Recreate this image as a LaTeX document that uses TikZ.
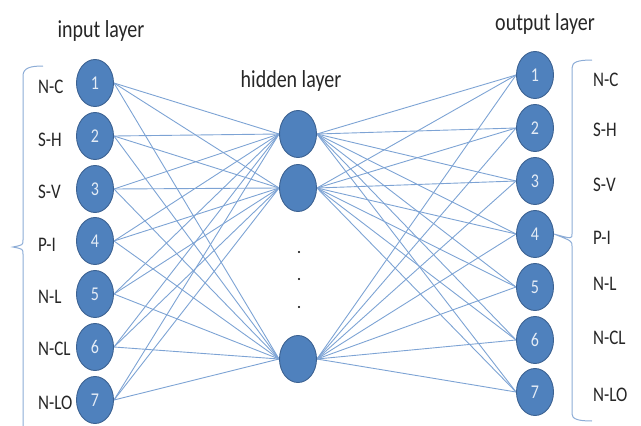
\documentclass[tikz,border=0pt]{standalone}
\usepackage{fontspec}
\setmainfont{Carlito}
\usetikzlibrary{shapes.geometric,backgrounds}
\definecolor{neuronfill}{RGB}{79,129,189}
\definecolor{neurondraw}{RGB}{60,98,146}
\definecolor{neurontext}{RGB}{228,236,246}
\definecolor{linkblue}{RGB}{125,163,212}
\definecolor{bracecol}{RGB}{140,172,214}
\newcommand{\tallx}[2][1.22]{\scalebox{1}[#1]{#2}}
\tikzset{
  neuron/.style={ellipse, fill=neuronfill, draw=neurondraw, line width=0.9pt,
    minimum width=37pt, minimum height=47pt, inner sep=0pt,
    text=neurontext, font=\fontsize{16}{16}\selectfont},
  link/.style={draw=linkblue, line width=0.9pt},
  sidelabel/.style={anchor=west, inner sep=0pt, text=black!85,
    font=\fontsize{17}{17}\selectfont},
  title/.style={inner sep=0pt, text=black!85, font=\fontsize{20}{20}\selectfont},
  bracket/.style={draw=bracecol, line width=1pt},
  dotmark/.style={circle, fill=black, inner sep=0pt, minimum size=2.4pt}
}
\begin{document}
\begin{tikzpicture}[x=1pt,y=-1pt]
\useasboundingbox (0,0) rectangle (641,426);

% titles
\node[title] (tin) at (101,31) {\tallx{input layer}};
\node[title] (thid) at (291,81) {\tallx{hidden layer}};
\node[title] (tout) at (545,24) {\tallx{output layer}};

% input layer
\foreach \i/\y in {1/83,2/136,3/189,4/241,5/294,6/347,7/400}
  \node[neuron] (in\i) at (95,\y) {\tallx{\i}};

% hidden layer
\node[neuron] (h1) at (298,134) {};
\node[neuron] (h2) at (298,188) {};
\node[neuron] (h3) at (298,359) {};
\node[dotmark] (d1) at (299,252) {};
\node[dotmark] (d2) at (299,279) {};
\node[dotmark] (d3) at (299,307) {};

% output layer
\foreach \i/\y in {1/75,2/128,3/181,4/234,5/287,6/340,7/392}
  \node[neuron] (out\i) at (535,\y) {\tallx{\i}};

% connections
\begin{scope}[on background layer]
  \foreach \i in {1,...,7}
    \foreach \h in {1,2,3} {
      \draw[link] (in\i.east) -- (h\h.west);
      \draw[link] (h\h.east) -- (out\i.west);
    }
\end{scope}

% input labels
\foreach \t/\y [count=\k] in {N-C/87,S-H/140,S-V/192,P-I/245,N-L/297,N-CL/349,N-LO/403}
  \node[sidelabel] (lin\k) at (38,\y) {\tallx{\t}};

% output labels
\foreach \t/\y [count=\k] in {N-C/80,S-H/130,S-V/185,P-I/238,N-L/284,N-CL/338,N-LO/395}
  \node[sidelabel] (lout\k) at (593,\y) {\tallx{\t}};

% left brace
\draw[bracket] (43,66) .. controls (30,66) and (23,68) .. (23,76)
  -- (23,240) .. controls (23,245) .. (13,247) .. controls (23,249) .. (23,254)
  -- (23,430);

% right brace
\coordinate (rbtip) at (out4.east);
\draw[bracket] (592,60) .. controls (578,60) and (572,62) .. (572,68)
  -- (572,234) .. controls (572,239) .. (rbtip) .. controls (572,241) .. (572,246)
  -- (572,414) .. controls (572,419) and (578,421) .. (592,421);
\end{tikzpicture}
\end{document}
